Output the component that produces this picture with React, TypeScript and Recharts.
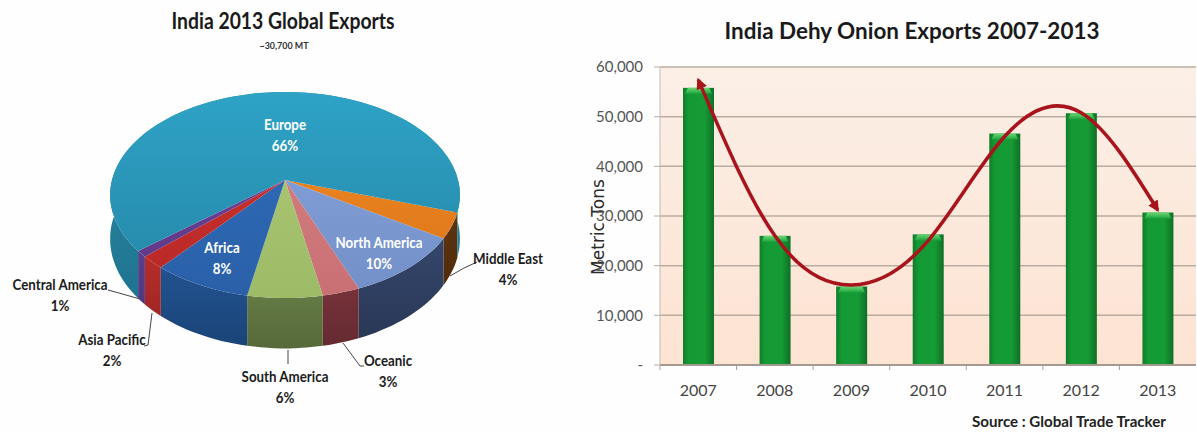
import React from 'react';
import { Bar, CartesianGrid, ComposedChart, Line, Pie, PieChart, XAxis, YAxis } from 'recharts';

// 2013 export share by destination, clockwise from Middle East
const regions = ['Middle East', 'North America', 'Oceanic', 'South America', 'Africa', 'Asia Pacific', 'Central America', 'Europe'];
const shares = [4, 10, 3, 6, 8, 2, 1, 66];
const topColors = ['#e9821f', '#7f9dd4', '#d27b7d', '#a8c471', '#2d68b3', '#c62f2b', '#6a3f94', '#2ea3c6'];
const topShade = ['#e07a1c', '#7390c8', '#c87074', '#9dba66', '#2a60a8', '#ba2a28', '#613a8a', '#278cad'];
const wallColors = ['#5e3410', '#34466c', '#76323a', '#647a44', '#21528f', '#b52d2a', '#5a3f8c', '#2a8ba6'];
const wallShade = ['#4f2c0d', '#2a3856', '#652a30', '#56693a', '#1b4478', '#a02725', '#4f3780', '#1f7490'];

// Yearly tonnage and the hand-drawn trend arrow
const years = ['2007', '2008', '2009', '2010', '2011', '2012', '2013'];
const tons = [55800, 26000, 15800, 26300, 46600, 50700, 30700];
const trend = [57400, 26000, 16100, 25000, 46000, 50800, 31200];
const yTicks = [0, 10000, 20000, 30000, 40000, 50000, 60000];

const pieData = regions.map((name, i) => ({ name, value: shares[i], index: i }));
const barData = years.map((year, i) => ({ year, tons: tons[i], trend: trend[i] }));

const LABEL_FONT = 'Lato, "Noto Sans", sans-serif';

// Disc is tilted towards the viewer, so the near half of the circle is stretched
const TILT = 0.1456;
const FLATTEN = 0.583;
const WALL = 43;

const project = (cx: number, cy: number, r: number, deg: number, drop = 0) => {
  const a = (-deg * Math.PI) / 180;
  const u = Math.cos(a);
  const v = Math.sin(a);
  const d = 1 - TILT * v;
  return {
    x: cx + (r * u) / d,
    y: cy + (r * FLATTEN * v) / d + (drop * WALL) / d,
  };
};

const arcPoints = (p: any, drop: number) => {
  const pts = [];
  const steps = Math.max(2, Math.ceil(Math.abs(p.endAngle - p.startAngle) / 2));
  for (let i = 0; i <= steps; i++) {
    const deg = p.startAngle + ((p.endAngle - p.startAngle) * i) / steps;
    pts.push(project(p.cx, p.cy, p.outerRadius, deg, drop));
  }
  return pts;
};

const toPath = (pts: { x: number; y: number }[]) =>
  pts.map((q, i) => `${i ? 'L' : 'M'}${q.x.toFixed(1)} ${q.y.toFixed(1)}`).join(' ');

const TopSlice = (p: any) => {
  const path = `M${p.cx} ${p.cy} ${toPath(arcPoints(p, 0)).replace('M', 'L')} Z`;
  return <path d={path} fill={`url(#top${p.index})`} />;
};

const WallSlice = (p: any) => {
  const upper = arcPoints(p, 0);
  const lower = arcPoints(p, 1).reverse();
  return <path d={`${toPath(upper)} ${toPath(lower).replace('M', 'L')} Z`} fill={`url(#wall${p.index})`} />;
};

const labelSpots: Record<string, { x: number; y: number; color: string; leader?: string }> = {
  'Middle East': { x: 508, y: 259, color: '#1c1c1c', leader: '477,262 464,268 450,276' },
  'North America': { x: 379, y: 243, color: '#ffffff' },
  Oceanic: { x: 388, y: 361, color: '#1c1c1c', leader: '343,343 360,366 364,366' },
  'South America': { x: 285, y: 377, color: '#1c1c1c', leader: '288,350 288,364' },
  Africa: { x: 222, y: 248, color: '#ffffff' },
  'Asia Pacific': { x: 112, y: 340, color: '#1c1c1c', leader: '144,346 148,345 152,313' },
  'Central America': { x: 60, y: 285, color: '#1c1c1c', leader: '108,290 119,293 140,299' },
  Europe: { x: 285, y: 125, color: '#ffffff' },
};

// Lato runs wider than the lettering wanted here, so labels are squeezed horizontally
const LABEL_SQUEEZE = 0.92;

const renderPieLabel = (p: any) => {
  const spot = labelSpots[p.name];
  const squeeze = `translate(${spot.x} 0) scale(${LABEL_SQUEEZE} 1)`;
  return (
    <g>
      {spot.leader && <polyline points={spot.leader} fill="none" stroke="#444444" strokeWidth={1} />}
      <text transform={squeeze} y={spot.y} dy={5} textAnchor="middle" fontFamily={LABEL_FONT} fontWeight={700} fontSize={14.5} fill={spot.color}>
        {p.name}
      </text>
      <text transform={squeeze} y={spot.y + 21} dy={5} textAnchor="middle" fontFamily={LABEL_FONT} fontWeight={700} fontSize={14.5} fill={spot.color}>
        {p.value}%
      </text>
    </g>
  );
};

const GlossBar = (p: any) => {
  const { x, y, width, height } = p;
  return (
    <g>
      <rect x={x} y={y} width={width} height={height} fill="url(#barBody)" />
      <path d={`M${x + 2} ${y + 6} L${x + 5} ${y} H${x + width - 5} L${x + width - 2} ${y + 6} Z`} fill="url(#barGloss)" />
    </g>
  );
};

// Category ticks sit on the band edges, so the mark is drawn half a band to the left
const YearTick = (p: any) => (
  <g>
    <line x1={p.x - 38.3} x2={p.x - 38.3} y1={365} y2={370} stroke="#a9a19a" />
    <text x={p.x} y={p.y} dy={23} textAnchor="middle" fontFamily={LABEL_FONT} fontSize={16} fill="#444444">
      {p.payload.value}
    </text>
  </g>
);

const formatTons = (v: number) => (v === 0 ? '-' : v.toLocaleString('en-US'));

export default function App() {
  return (
    <div style={{ position: 'fixed', left: 0, top: 0, width: 1197, height: 432, background: '#fefefe', overflow: 'hidden' }}>
      <div style={{ position: 'absolute', left: 0, top: 0 }}>
        <PieChart width={570} height={432} margin={{ top: 0, right: 0, bottom: 0, left: 0 }}>
          <defs>
            {regions.map((name, i) => (
              <linearGradient key={name} id={`top${i}`} x1="0" y1="0" x2="0" y2="1">
                <stop offset="0%" stopColor={topColors[i]} />
                <stop offset="100%" stopColor={topShade[i]} />
              </linearGradient>
            ))}
            {regions.map((name, i) => (
              <linearGradient key={name} id={`wall${i}`} x1="0" y1="0" x2="0" y2="1">
                <stop offset="0%" stopColor={wallColors[i]} />
                <stop offset="100%" stopColor={wallShade[i]} />
              </linearGradient>
            ))}
          </defs>
          <text x={283} y={29} textAnchor="middle" textLength={223} lengthAdjust="spacingAndGlyphs" fontFamily={LABEL_FONT} fontWeight={700} fontSize={22} fill="#1a1a1a">
            India 2013 Global Exports
          </text>
          <text x={284} y={49} textAnchor="middle" textLength={49} lengthAdjust="spacingAndGlyphs" fontFamily={LABEL_FONT} fontWeight={700} fontSize={10} fill="#333333">
            ~30,700 MT
          </text>
          <Pie
            data={pieData}
            dataKey="value"
            cx={285}
            cy={180}
            outerRadius={173}
            startAngle={-18}
            endAngle={-378}
            stroke="none"
            isAnimationActive={false}
            shape={WallSlice}
            activeShape={WallSlice}
            inactiveShape={WallSlice}
          />
          <Pie
            data={pieData}
            dataKey="value"
            cx={285}
            cy={180}
            outerRadius={173}
            startAngle={-18}
            endAngle={-378}
            stroke="none"
            isAnimationActive={false}
            shape={TopSlice}
            activeShape={TopSlice}
            inactiveShape={TopSlice}
            label={renderPieLabel}
            labelLine={false}
          />
        </PieChart>
      </div>
      <div style={{ position: 'absolute', left: 570, top: 0 }}>
        <ComposedChart width={627} height={432} data={barData} margin={{ top: 67, right: 1, bottom: 0, left: 0 }} barCategoryGap={0}>
          <defs>
            <linearGradient id="plotWash" x1="0" y1="0" x2="0" y2="1">
              <stop offset="0%" stopColor="#fbefe6" />
              <stop offset="100%" stopColor="#fde3d2" />
            </linearGradient>
            <linearGradient id="barBody" x1="0" y1="0" x2="1" y2="0">
              <stop offset="0%" stopColor="#127a2a" />
              <stop offset="18%" stopColor="#149a34" />
              <stop offset="70%" stopColor="#169c36" />
              <stop offset="100%" stopColor="#0f6f26" />
            </linearGradient>
            <linearGradient id="barGloss" x1="0" y1="0" x2="0" y2="1">
              <stop offset="0%" stopColor="#6fd676" />
              <stop offset="100%" stopColor="#1aa43c" />
            </linearGradient>
            <marker id="trendHead" viewBox="0 0 10 10" refX="8" refY="5" markerWidth="3.2" markerHeight="3.2" orient="auto-start-reverse">
              <path d="M0 0 L10 5 L0 10 Z" fill="#a8141c" />
            </marker>
          </defs>
          <CartesianGrid vertical={false} stroke="#b9aca1" strokeWidth={1.5} fill="url(#plotWash)" />
          <XAxis
            dataKey="year"
            height={67}
            axisLine={{ stroke: '#a39a92', strokeWidth: 2 }}
            tickLine={false}
            tick={<YearTick />}
            interval={0}
          />
          <YAxis
            width={90}
            domain={[0, 60000]}
            ticks={yTicks}
            tickFormatter={formatTons}
            axisLine={{ stroke: '#c4bbb3' }}
            tickLine={{ stroke: '#b9aca1' }}
            tickSize={6}
            tickMargin={11}
            tick={{ fontFamily: LABEL_FONT, fontSize: 15, fill: '#555555' }}
          />
          <Bar dataKey="tons" barSize={31} isAnimationActive={false} shape={<GlossBar />} />
          <Line
            dataKey="trend"
            type="natural"
            stroke="#a8141c"
            strokeWidth={3.5}
            dot={false}
            activeDot={false}
            markerStart="url(#trendHead)"
            markerEnd="url(#trendHead)"
            isAnimationActive={false}
          />
          <text x={342} y={39} textAnchor="middle" textLength={375} lengthAdjust="spacingAndGlyphs" fontFamily={LABEL_FONT} fontWeight={700} fontSize={23} fill="#1a1a1a">
            India Dehy Onion Exports 2007-2013
          </text>
          <text x={28} y={227} textAnchor="middle" fontFamily='"DejaVu Sans", sans-serif' fontSize={17} fill="#2a2a2a" transform="rotate(-90 28 227)" dy={6}>
            Metric Tons
          </text>
          <text x={499} y={427} textAnchor="middle" textLength={194} lengthAdjust="spacingAndGlyphs" fontFamily={LABEL_FONT} fontWeight={700} fontSize={15} fill="#222222">
            Source : Global Trade Tracker
          </text>
        </ComposedChart>
      </div>
    </div>
  );
}
